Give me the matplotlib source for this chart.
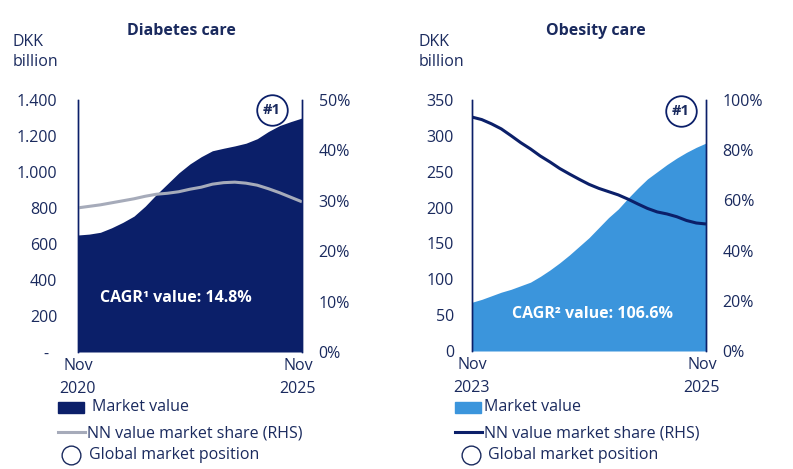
import matplotlib
matplotlib.use("Agg")
import matplotlib.pyplot as plt
from matplotlib.lines import Line2D
from matplotlib.patches import Rectangle

plt.rcParams['font.family'] = ['Open Sans', 'DejaVu Sans']

# ---------------- data ----------------
# Diabetes care: quarterly points, months since Nov 2020
diab_months = [0, 3, 6, 9, 12, 15, 18, 21, 24, 27, 30, 33, 36, 39, 42, 45, 48, 51, 54, 57, 60]
diab_value = [650, 655, 665, 690, 720, 755, 810, 875, 935, 995, 1045, 1085, 1118, 1132,
              1145, 1160, 1185, 1225, 1258, 1280, 1300]
diab_share = [28.6, 28.9, 29.2, 29.6, 30.0, 30.4, 30.9, 31.3, 31.5, 31.8, 32.3, 32.7, 33.3,
              33.6, 33.7, 33.5, 33.1, 32.4, 31.6, 30.7, 29.8]
diab_yticks = [0, 200, 400, 600, 800, 1000, 1200, 1400]
diab_ylabels = ['-  ', '200', '400', '600', '800', '1.000', '1.200', '1.400']
diab_rticks = [0, 10, 20, 30, 40, 50]
diab_xlabels = ['Nov\n2020', 'Nov\n2025']

# Obesity care: monthly points, months since Nov 2023
obes_months = list(range(25))
obes_value = [68, 72, 77, 82, 86, 91, 96, 104, 113, 123, 134, 146, 158, 172, 186, 198, 213,
              227, 240, 250, 260, 269, 277, 284, 290]
obes_share = [93.2, 92.2, 90.5, 88.5, 85.8, 83.0, 80.5, 77.7, 75.3, 72.7, 70.5, 68.4, 66.4,
              64.8, 63.5, 62.2, 60.5, 58.6, 56.8, 55.4, 54.6, 53.5, 52.0, 51.0, 50.6]
obes_yticks = [0, 50, 100, 150, 200, 250, 300, 350]
obes_rticks = [0, 20, 40, 60, 80, 100]
obes_xlabels = ['Nov\n2023', 'Nov\n2025']

NAVY = '#0b1f69'
TEXT = '#1a2a5e'
LIGHT = '#3b95dc'
GREY = '#a6abba'

W, H = 793, 469
fig = plt.figure(figsize=(W / 100, H / 100), dpi=100)
FS = 11.5


def fx(x):
    return x / W


def fy(y):
    return 1 - y / H


def make_panel(l, r, t, b, months, value, share, fill_col, line_col, yticks, ylabels,
               ymax, rticks, rmax, xlabels, title, title_x, dkk_x, cagr, cagr_xy, circ_xy,
               lpad, rpad, leg_x0, leg_txt, circ_leg_x, circ_txt):
    ax = fig.add_axes([fx(l), fy(b), fx(r) - fx(l), fy(t) - fy(b)])
    ax.fill_between(months, value, 0, color=fill_col, lw=0)
    ax.set_xlim(months[0], months[-1])
    ax.set_ylim(0, ymax)
    ax.set_yticks(yticks)
    ax.set_yticklabels(ylabels)
    ax.tick_params(axis='y', length=0, pad=lpad, labelsize=FS, labelcolor=TEXT)
    ax.set_xticks([])
    for s in ['top', 'bottom']:
        ax.spines[s].set_visible(False)
    for s in ['left', 'right']:
        ax.spines[s].set_color(NAVY)
        ax.spines[s].set_linewidth(1.0)
    ax2 = ax.twinx()
    ax2.plot(months, share, color=line_col, lw=2.2, solid_capstyle='butt')
    ax2.set_ylim(0, rmax)
    ax2.set_yticks(rticks)
    ax2.set_yticklabels([f'{v}%' for v in rticks])
    ax2.tick_params(axis='y', length=0, pad=rpad, labelsize=FS, labelcolor=TEXT)
    for s in ['top', 'bottom']:
        ax2.spines[s].set_visible(False)
    for s in ['left', 'right']:
        ax2.spines[s].set_color(NAVY)
        ax2.spines[s].set_linewidth(1.0)
    # x labels
    ax.annotate(xlabels[0], xy=(months[0], 0), xycoords='data', xytext=(0, -4),
                textcoords='offset points', ha='center', va='top', fontsize=FS,
                color=TEXT, linespacing=1.6, annotation_clip=False)
    ax.annotate(xlabels[1], xy=(months[-1], 0), xycoords='data', xytext=(-3, -4),
                textcoords='offset points', ha='center', va='top', fontsize=FS,
                color=TEXT, linespacing=1.6, annotation_clip=False)
    # title and unit
    fig.text(fx(title_x), fy(31), title, ha='center', va='center', fontsize=FS,
             fontweight='bold', color=TEXT)
    fig.text(fx(dkk_x), fy(52), 'DKK\nbillion', ha='left', va='center', fontsize=FS,
             color=TEXT, linespacing=1.25)
    fig.text(fx(cagr_xy[0]), fy(cagr_xy[1]), cagr, ha='center', va='center', fontsize=FS,
             fontweight='bold', color='white')
    # #1 circle
    fig.add_artist(Line2D([fx(circ_xy[0])], [fy(circ_xy[1])], marker='o', markersize=22,
                          mfc='white', mec=NAVY, mew=1.3, transform=fig.transFigure))
    fig.text(fx(circ_xy[0]), fy(circ_xy[1]), '#1', ha='center', va='center', fontsize=10.5,
             fontweight='bold', color=TEXT)
    # legend
    fig.add_artist(Rectangle((fx(leg_x0), fy(413)), fx(26), 11 / H, color=fill_col,
                             transform=fig.transFigure))
    fig.text(fx(leg_txt), fy(407), 'Market value', ha='left', va='center', fontsize=FS,
             color=TEXT)
    fig.add_artist(Line2D([fx(leg_x0), fx(leg_x0 + 27)], [fy(432), fy(432)], color=line_col,
                          lw=2.2, transform=fig.transFigure))
    fig.text(fx(leg_x0 + 29), fy(433), 'NN value market share (RHS)', ha='left', va='center',
             fontsize=FS, color=TEXT)
    fig.add_artist(Line2D([fx(circ_leg_x)], [fy(455)], marker='o', markersize=13.5,
                          mfc='white', mec=TEXT, mew=1.0, transform=fig.transFigure))
    fig.text(fx(circ_txt), fy(455), 'Global market position', ha='left', va='center',
             fontsize=FS, color=TEXT)
    return ax, ax2


make_panel(78, 302, 100, 352, diab_months, diab_value, diab_share, NAVY, GREY,
           diab_yticks, diab_ylabels, 1400, diab_rticks, 50, diab_xlabels,
           'Diabetes care', 181, 13, 'CAGR¹ value: 14.8%', (176, 298), (272, 110),
           15, 12, 58, 92, 71, 89)

make_panel(472, 706, 100, 351, obes_months, obes_value, obes_share, LIGHT, NAVY,
           obes_yticks, [str(v) for v in obes_yticks], 350, obes_rticks, 100, obes_xlabels,
           'Obesity care', 596, 419, 'CAGR² value: 106.6%', (592, 314), (681, 111),
           13, 12, 455, 484, 471, 488)

fig.savefig('out.png', dpi=100)
